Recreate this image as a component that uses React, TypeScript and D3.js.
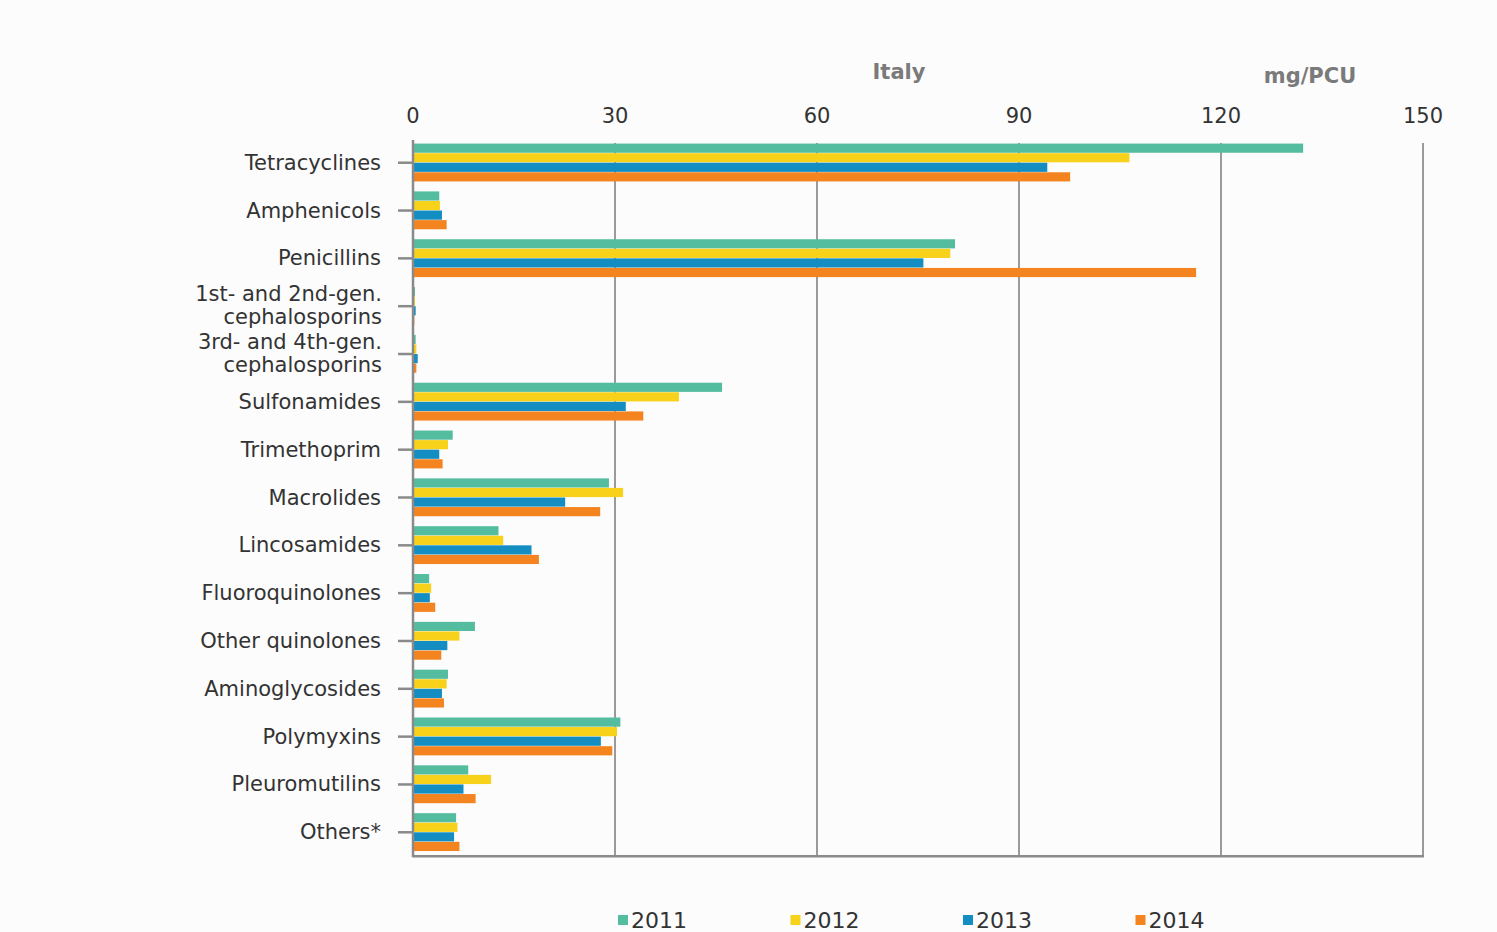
import React from "react";
import * as d3 from "d3";

const categories = [
  ["Tetracyclines"],
  ["Amphenicols"],
  ["Penicillins"],
  ["1st- and 2nd-gen.", "cephalosporins"],
  ["3rd- and 4th-gen.", "cephalosporins"],
  ["Sulfonamides"],
  ["Trimethoprim"],
  ["Macrolides"],
  ["Lincosamides"],
  ["Fluoroquinolones"],
  ["Other quinolones"],
  ["Aminoglycosides"],
  ["Polymyxins"],
  ["Pleuromutilins"],
  ["Others*"],
];
const years = ["2011", "2012", "2013", "2014"];
const v2011 = [132.2, 3.9, 80.5, 0.3, 0.4, 45.9, 5.9, 29.1, 12.7, 2.4, 9.2, 5.2, 30.8, 8.2, 6.4];
const v2012 = [106.4, 4.0, 79.8, 0.3, 0.5, 39.5, 5.2, 31.2, 13.4, 2.7, 6.9, 5.0, 30.3, 11.6, 6.6];
const v2013 = [94.2, 4.3, 75.8, 0.4, 0.7, 31.6, 3.9, 22.6, 17.6, 2.5, 5.1, 4.3, 27.9, 7.5, 6.1];
const v2014 = [97.6, 5.0, 116.3, 0.2, 0.5, 34.2, 4.4, 27.8, 18.7, 3.3, 4.2, 4.6, 29.6, 9.3, 6.9];
const seriesValues = [v2011, v2012, v2013, v2014];
const xTicks = [0, 30, 60, 90, 120, 150];
const colors = ["#55bd9f", "#f8d21a", "#138dc2", "#f48420"];

const W = 1497;
const H = 932;
const left = 413;
const right = 1423;
const top = 138.8;
const bottom = 856.2;
const font = "'DejaVu Sans', Verdana, sans-serif";

export default function App() {
  const x = d3.scaleLinear().domain([0, 150]).range([left, right]);
  const y = d3
    .scaleBand<number>()
    .domain(categories.map((_, i) => i))
    .range([top, bottom])
    .paddingInner(0.2)
    .paddingOuter(0.1);
  const yInner = d3.scaleBand<number>().domain(years.map((_, i) => i)).range([0, y.bandwidth()]);

  return (
    <svg
      width={W}
      height={H}
      style={{ position: "absolute", left: 0, top: 0, background: "#fcfcfc" }}
      fontFamily={font}
    >
      <rect x={0} y={0} width={W} height={H} fill="#fcfcfc" />
      {xTicks.slice(1).map((t) => (
        <line key={t} x1={x(t)} x2={x(t)} y1={143} y2={bottom} stroke="#9a9a9a" strokeWidth={2} />
      ))}
      {categories.map((_, ci) => (
        <g key={ci} transform={`translate(0,${y(ci)})`}>
          {seriesValues.map((vals, si) => (
            <rect
              key={si}
              x={x(0)}
              y={yInner(si)!}
              width={Math.max(0, x(vals[ci]) - x(0))}
              height={yInner.bandwidth() - 0.4}
              fill={colors[si]}
            />
          ))}
        </g>
      ))}
      <line x1={left} x2={left} y1={140} y2={bottom + 1} stroke="#8a8a8a" strokeWidth={2.5} />
      <line x1={left} x2={right + 1} y1={bottom} y2={bottom} stroke="#8a8a8a" strokeWidth={2.5} />
      {categories.map((lines, ci) => {
        const cy = y(ci)! + y.bandwidth() / 2;
        return (
          <g key={ci}>
            <line x1={398} x2={left} y1={cy} y2={cy} stroke="#8a8a8a" strokeWidth={2.5} />
            {lines.length === 1 ? (
              <text x={381} y={cy} textAnchor="end" dominantBaseline="central" fontSize={21} fill="#333">
                {lines[0]}
              </text>
            ) : (
              lines.map((ln, li) => (
                <text
                  key={li}
                  x={382}
                  y={cy - 12.5 + li * 23}
                  textAnchor="end"
                  dominantBaseline="central"
                  fontSize={21}
                  fill="#333"
                >
                  {ln}
                </text>
              ))
            )}
          </g>
        );
      })}
      {xTicks.map((t) => (
        <text key={t} x={x(t)} y={116} textAnchor="middle" dominantBaseline="central" fontSize={21} fill="#333">
          {t}
        </text>
      ))}
      <text x={899} y={72} textAnchor="middle" dominantBaseline="central" fontSize={21} fontWeight="bold" fill="#7a7a7a">
        Italy
      </text>
      <text x={1310} y={76} textAnchor="middle" dominantBaseline="central" fontSize={21} fontWeight="bold" fill="#7a7a7a">
        mg/PCU
      </text>
      {years.map((yr, i) => {
        const lx = 618 + i * 172.5;
        return (
          <g key={yr}>
            <rect x={lx} y={915} width={10} height={10} fill={colors[i]} />
            <text x={lx + 13} y={920} dominantBaseline="central" fontSize={22} fill="#333">
              {yr}
            </text>
          </g>
        );
      })}
    </svg>
  );
}
